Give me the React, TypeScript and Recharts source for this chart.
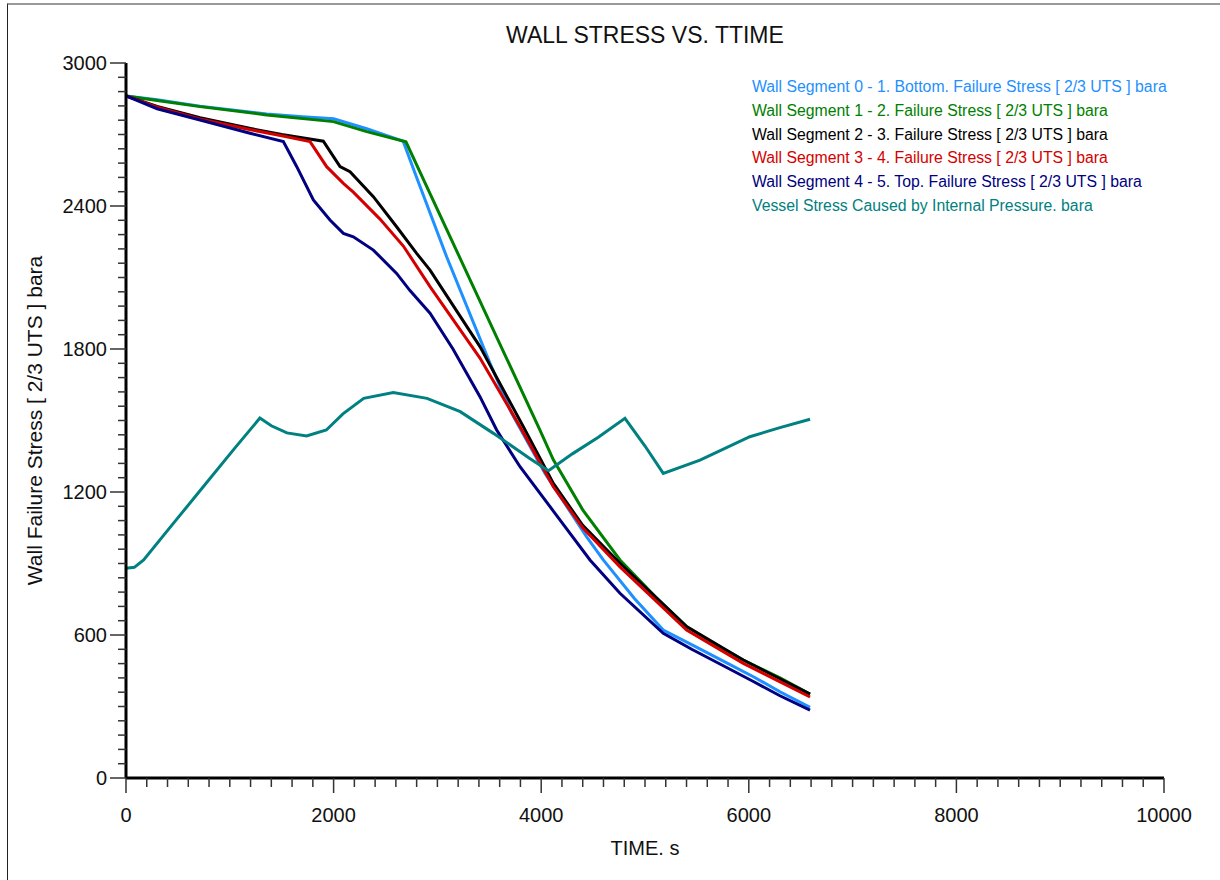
import React from "react";
import { LineChart, Line, XAxis, YAxis, Legend, Label } from "recharts";

// [time s, stress bara]
const seg01Bottom = [
  [0, 2862], [300, 2846], [713, 2819], [1356, 2786], [1700, 2774], [2000, 2766], [2319, 2724],
  [2670, 2672], [2800, 2520], [3089, 2187], [3507, 1740], [3716, 1530], [4037, 1278], [4438, 1012],
  [4598, 915], [4900, 752], [5176, 621], [5500, 548], [5787, 483], [6044, 425], [6300, 362], [6590, 297],
];
const seg12 = [
  [0, 2862], [300, 2843], [713, 2817], [1356, 2782], [1998, 2754], [2319, 2712], [2697, 2669],
  [3200, 2198], [3600, 1823], [3988, 1460], [4117, 1335], [4400, 1125], [4759, 915], [5100, 760],
  [5401, 635], [5700, 555], [5947, 495], [6300, 420], [6590, 352],
];
const seg23 = [
  [0, 2862], [300, 2818], [713, 2770], [1200, 2725], [1500, 2700], [1901, 2672], [2062, 2565],
  [2158, 2544], [2383, 2439], [2607, 2313], [2800, 2201], [2929, 2131], [3410, 1810], [3828, 1474],
  [4117, 1236], [4400, 1060], [4759, 901], [5100, 760], [5401, 635], [5947, 495], [6590, 352],
];
const seg34 = [
  [0, 2862], [300, 2815], [713, 2765], [1200, 2720], [1500, 2695], [1773, 2670], [1933, 2565],
  [2094, 2495], [2190, 2458], [2447, 2345], [2672, 2232], [2929, 2062], [3410, 1762], [3796, 1474],
  [4117, 1222], [4400, 1050], [4759, 886], [5100, 745], [5401, 621], [5947, 481], [6590, 340],
];
const seg45Top = [
  [0, 2862], [300, 2808], [713, 2761], [1195, 2705], [1516, 2670], [1645, 2565], [1805, 2425],
  [1965, 2341], [2094, 2285], [2190, 2271], [2383, 2215], [2607, 2117], [2736, 2045], [2929, 1950],
  [3150, 1800], [3410, 1600], [3571, 1460], [3796, 1306], [4117, 1120], [4470, 915], [4759, 775],
  [5176, 607], [5450, 540], [5750, 472], [6044, 405], [6300, 345], [6590, 285],
];
const vesselStress = [
  [0, 880], [80, 884], [170, 915], [450, 1065], [750, 1225], [1050, 1385], [1290, 1510],
  [1400, 1478], [1550, 1448], [1740, 1435], [1930, 1460], [2090, 1528], [2290, 1593], [2575, 1617],
  [2900, 1593], [3220, 1537], [3540, 1446], [3890, 1341], [4070, 1289], [4300, 1360], [4550, 1430],
  [4807, 1509], [5000, 1393], [5176, 1278], [5530, 1334], [6010, 1432], [6300, 1470], [6590, 1505],
];

const xMajor = [0, 2000, 4000, 6000, 8000, 10000];
const yMajor = [0, 600, 1200, 1800, 2400, 3000];
const xMinorStep = 200;
const yMinorStep = 60;

const series = [
  { name: "Wall Segment 0 - 1. Bottom. Failure Stress [ 2/3 UTS ] bara", color: "#1e90ff", pts: seg01Bottom },
  { name: "Wall Segment 1 - 2. Failure Stress [ 2/3 UTS ] bara", color: "#008000", pts: seg12 },
  { name: "Wall Segment 2 - 3. Failure Stress [ 2/3 UTS ] bara", color: "#000000", pts: seg23 },
  { name: "Wall Segment 3 - 4. Failure Stress [ 2/3 UTS ] bara", color: "#d40000", pts: seg34 },
  { name: "Wall Segment 4 - 5. Top. Failure Stress [ 2/3 UTS ] bara", color: "#000080", pts: seg45Top },
  { name: "Vessel Stress Caused by Internal Pressure. bara", color: "#008080", pts: vesselStress },
];

const xTicks = Array.from({ length: 10000 / xMinorStep + 1 }, (_, i) => i * xMinorStep);
const yTicks = Array.from({ length: 3000 / yMinorStep + 1 }, (_, i) => i * yMinorStep);

const FONT = "'Liberation Sans', Arial, sans-serif";

function XTick(props: any) {
  const { x, y, payload } = props;
  const major = xMajor.includes(payload.value);
  return (
    <g>
      <line x1={x} y1={y} x2={x} y2={y + (major ? 15 : 9)} stroke="#333" strokeWidth={1.5} />
      {major && (
        <text x={x} y={y + 44} textAnchor="middle" fontSize={20} fontFamily={FONT} fill="#111">
          {payload.value}
        </text>
      )}
    </g>
  );
}

function YTick(props: any) {
  const { x, y, payload } = props;
  const major = yMajor.includes(payload.value);
  return (
    <g>
      <line x1={x - (major ? 16 : 8)} y1={y} x2={x} y2={y} stroke="#333" strokeWidth={1.5} />
      {major && (
        <text x={x - 19} y={y + 7} textAnchor="end" fontSize={20} fontFamily={FONT} fill="#111">
          {payload.value}
        </text>
      )}
    </g>
  );
}

// legend entries in the series order
function LegendBox() {
  return (
    <div style={{ fontFamily: FONT, fontSize: 15.8, lineHeight: "23.8px", whiteSpace: "nowrap" }}>
      {series.map((s) => (
        <div key={s.name} style={{ color: s.color }}>{s.name}</div>
      ))}
    </div>
  );
}

export default function App() {
  return (
    <div style={{ position: "absolute", left: 0, top: 0, width: 1220, height: 880, background: "#fff", overflow: "hidden" }}>
      <div style={{ position: "absolute", left: 7, top: 3, width: 1300, height: 1000, borderLeft: "1.5px solid #222", borderTop: "2px solid #999" }} />
      <div style={{ position: "absolute", left: 126, top: 23, width: 1038, textAlign: "center", fontFamily: FONT, fontSize: 23, lineHeight: "24px", color: "#111" }}>
        WALL STRESS VS. TTIME
      </div>
      <LineChart width={1220} height={880} margin={{ top: 63, right: 56, left: 0, bottom: 0 }} style={{ position: "absolute", left: 0, top: 0 }}>
        <XAxis
          type="number"
          dataKey="t"
          domain={[0, 10000]}
          ticks={xTicks}
          interval={0}
          height={102}
          tickSize={0}
          tickMargin={0}
          tickLine={false}
          tick={<XTick />}
          axisLine={{ stroke: "#000", strokeWidth: 3 }}
          allowDataOverflow
        >
          <Label value="TIME. s" position="insideBottom" offset={25} style={{ fontFamily: FONT, fontSize: 20, fill: "#111" }} />
        </XAxis>
        <YAxis
          type="number"
          dataKey="v"
          domain={[0, 3000]}
          ticks={yTicks}
          interval={0}
          width={126}
          tickSize={0}
          tickMargin={0}
          tickLine={false}
          tick={<YTick />}
          axisLine={{ stroke: "#000", strokeWidth: 3 }}
          allowDataOverflow
        >
          <Label value="Wall Failure Stress [ 2/3 UTS ] bara" angle={-90} position="insideLeft" offset={35} style={{ fontFamily: FONT, fontSize: 21, fill: "#111", textAnchor: "middle" }} />
        </YAxis>
        <Legend
          layout="vertical"
          align="center"
          verticalAlign="middle"
          content={<LegendBox />}
          wrapperStyle={{ top: 75, left: 752, width: 460, height: 150 }}
        />
        {series.map((s) => (
          <Line
            key={s.name}
            name={s.name}
            data={s.pts.map(([t, v]) => ({ t, v }))}
            dataKey="v"
            type="linear"
            stroke={s.color}
            strokeWidth={3}
            dot={false}
            activeDot={false}
            isAnimationActive={false}
          />
        ))}
      </LineChart>
    </div>
  );
}
